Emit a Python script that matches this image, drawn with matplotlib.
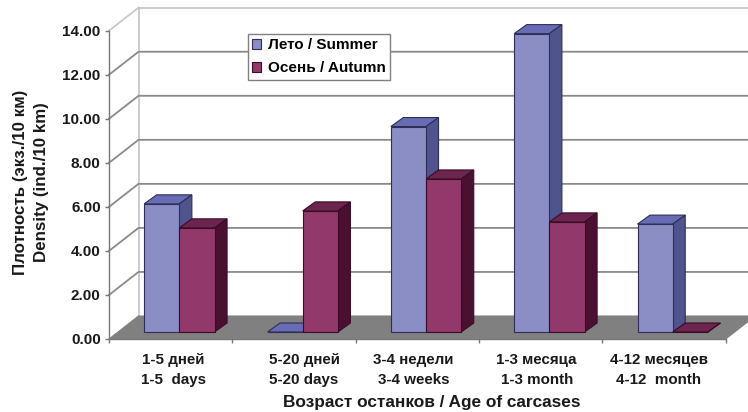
# carcass density by age, fake 3d columns

import numpy as np
import matplotlib
matplotlib.use("Agg")
import matplotlib.pyplot as plt
from matplotlib.patches import Polygon
from matplotlib.transforms import ScaledTranslation

categories = ["1-5 дней\n1-5  days", "5-20 дней\n5-20 days", "3-4 недели\n3-4 weeks",
              "1-3 месяца\n1-3 month", "4-12 месяцев\n4-12  month"]
summer = [5.82, 0.0, 9.33, 13.55, 4.9]
autumn = [4.73, 5.5, 6.95, 5.0, 0.0]
y_ticks = [0, 2, 4, 6, 8, 10, 12, 14]

W, H = 748, 412
left, right, bottom, top = 109, 725.7, 339, 30.7
px_x = (right - left) / 5
px_y = (bottom - top) / 14

plt.rcParams["font.family"] = ["Liberation Sans", "DejaVu Sans"]
plt.rcParams["font.weight"] = "bold"
plt.rcParams["axes.labelweight"] = "bold"

fig = plt.figure(figsize=(W / 100, H / 100), dpi=100)
ax = fig.add_axes([left / W, 1 - bottom / H, (right - left) / W, (bottom - top) / H])
ax.set_xlim(0, 5)
ax.set_ylim(0, 14)
ax.patch.set_visible(False)

# wall and floor depth
dx, dy = 29.5 / px_x, 23 / px_y
# column depth and placement on the floor
bar_w = 35.2 / px_x
bar_dx, bar_dy = 12.5 / px_x, 9 / px_y
lift_x, lift_y = 8.7 / px_x, 7 / px_y
grid_c = "#8a8a8a"
wall_c = "#c4c4c4"


def add_poly(pts, fc, ec, lw=0.8, z=2):
    ax.add_patch(Polygon(pts, closed=True, fc=fc, ec=ec, lw=lw, zorder=z, clip_on=False))


# floor
add_poly([(0, 0), (5, 0), (5 + dx, dy), (dx, dy)], "#808080", "#808080", z=1.5)

# walls and gridlines
ax.plot([dx, dx], [dy, 14 + dy], color=wall_c, lw=1.2, clip_on=False, zorder=1)
ax.plot([0, dx], [14, 14 + dy], color=wall_c, lw=1.2, clip_on=False, zorder=1)
ax.plot([dx, 5 + dx], [14 + dy, 14 + dy], color=wall_c, lw=1.2, clip_on=False, zorder=1)
for t in y_ticks[1:-1]:
    ax.plot([0, dx, 5 + dx], [t, t + dy, t + dy], color=grid_c, lw=1.3, clip_on=False, zorder=1)


def draw_col(x, v, front, top_c, side, edge, z):
    # x is the left edge of the front face, v the height above the floor
    y0, y1 = lift_y, lift_y + v
    x1 = x + bar_w
    ax.bar(x, v, bar_w, bottom=y0, align="edge", color=front, edgecolor=edge, lw=0.8,
           zorder=z + 0.2, clip_on=False)
    add_poly([(x, y1), (x1, y1), (x1 + bar_dx, y1 + bar_dy), (x + bar_dx, y1 + bar_dy)],
             top_c, edge, z=z + 0.1)
    add_poly([(x1, y0), (x1 + bar_dx, y0 + bar_dy), (x1 + bar_dx, y1 + bar_dy), (x1, y1)],
             side, edge, z=z + 0.1)


for i in range(len(categories)):
    c = i + 0.5 + lift_x
    draw_col(c - bar_w, summer[i], "#8b8dc5", "#676cb5", "#50548c", "#2e2e58", 3 + i)
    draw_col(c, autumn[i], "#93386b", "#6d244f", "#4a1030", "#3a0c28", 3.5 + i)

# legend handles only, columns above carry no labels
h1 = ax.bar([0], [0], color="#8b8dc5", edgecolor="#2e2e58", lw=0.8, label="Лето / Summer")
h2 = ax.bar([0], [0], color="#93386b", edgecolor="#3a0c28", lw=0.8, label="Осень / Autumn")
leg = ax.legend(handles=[h1, h2], loc="upper left",
                bbox_to_anchor=((248 - left) / (right - left), (bottom - 34) / (bottom - top)),
                fontsize=11, fancybox=False, framealpha=1, edgecolor="#808080", borderaxespad=0,
                handlelength=0.6, handleheight=0.6, handletextpad=0.4, labelspacing=0.6,
                borderpad=0.28)
leg.get_frame().set_linewidth(1.0)
leg.set_zorder(20)

# axes
for s in ["top", "right"]:
    ax.spines[s].set_visible(False)
for s in ["left", "bottom"]:
    ax.spines[s].set_color("#777777")
    ax.spines[s].set_linewidth(1.0)
    ax.spines[s].set_zorder(2.5)

ax.set_yticks(y_ticks)
ax.set_yticklabels(["%.2f" % t for t in y_ticks], fontsize=11, color="#1a1a1a")
ax.set_xticks(np.arange(6))
ax.set_xticklabels([])
ax.set_xticks(np.arange(5) + 0.5, minor=True)
ax.set_xticklabels(categories, minor=True, fontsize=10.9, color="#1a1a1a", linespacing=1.58)
ax.tick_params(axis="both", which="major", length=3, color="#777777", width=1.0, pad=3)
ax.tick_params(axis="x", which="minor", length=0, pad=10)

# the labels are not quite centred under their groups in the original
nudge_px = [3, 10, -4, -4, -5]
for tick, n in zip(ax.xaxis.get_minor_ticks(), nudge_px):
    lab = tick.label1
    lab.set_transform(lab.get_transform() + ScaledTranslation(n / 100, 0, fig.dpi_scale_trans))

ax.set_xlabel("Возраст останков / Age of carcases", fontsize=12.4, color="#1a1a1a")
ax.xaxis.label.set_verticalalignment("center")
ax.xaxis.set_label_coords((432 - left) / (right - left), -(403 - bottom) / (bottom - top))
ax.set_ylabel("Плотность (экз./10 км)\nDensity (ind./10 km)", fontsize=12.2, color="#1a1a1a",
              linespacing=1.5)
ax.yaxis.label.set_verticalalignment("center")
ax.yaxis.set_label_coords(-(left - 31.5) / (right - left), (bottom - 182) / (bottom - top))

fig.savefig("out.png", dpi=100)
